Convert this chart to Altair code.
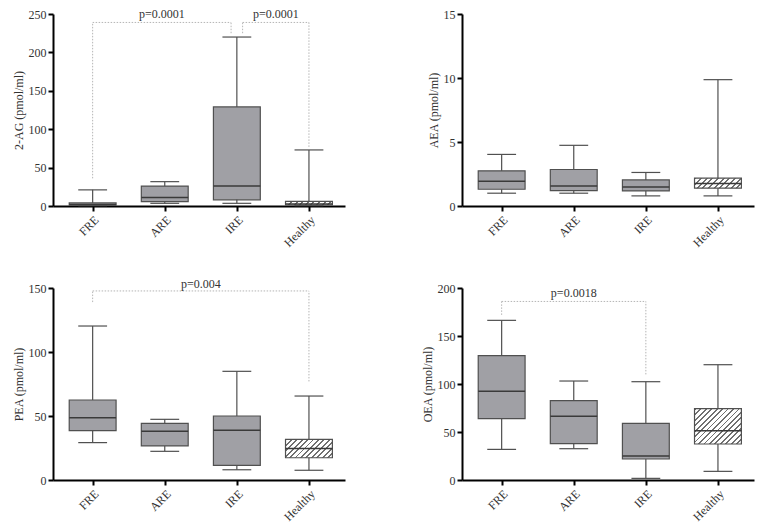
import json

import altair as alt
import numpy as np
import pandas as pd

groups = ["FRE", "ARE", "IRE", "Healthy"]
positions = [1, 2, 3, 4]

# 2-AG (pmol/ml)
ag_min = [0.5, 3.5, 3.5, 0.5]
ag_q1 = [1.0, 5.6, 8.0, 1.3]
ag_med = [2.0, 11.0, 26.0, 2.5]
ag_q3 = [4.0, 26.0, 129.0, 6.0]
ag_max = [21.0, 31.7, 220.0, 73.0]

# AEA (pmol/ml)
aea_min = [1.0, 1.0, 0.79, 0.79]
aea_q1 = [1.31, 1.2, 1.18, 1.39]
aea_med = [1.94, 1.57, 1.49, 1.75]
aea_q3 = [2.75, 2.85, 2.04, 2.17]
aea_max = [4.03, 4.74, 2.62, 9.87]

# PEA (pmol/ml)
pea_min = [29.2, 22.4, 8.0, 7.6]
pea_q1 = [38.5, 26.6, 11.5, 17.4]
pea_med = [48.7, 38.0, 38.8, 24.7]
pea_q3 = [62.5, 44.3, 50.0, 31.8]
pea_max = [120.3, 47.4, 84.9, 65.6]

# OEA (pmol/ml)
oea_min = [31.9, 32.6, 1.7, 9.0]
oea_q1 = [63.9, 37.8, 21.9, 37.5]
oea_med = [92.4, 66.3, 25.0, 51.4]
oea_q3 = [129.5, 82.6, 59.0, 74.3]
oea_max = [166.3, 103.1, 102.4, 120.1]

# significance brackets: x from, x to, left foot, right foot, top, label
ag_br_x1 = [1.0, 3.08]
ag_br_x2 = [2.92, 4.0]
ag_br_left = [36, 225]
ag_br_right = [225, 77]
ag_br_top = [239, 239]
ag_br_label = ["p=0.0001", "p=0.0001"]

pea_br_x1 = [1.0]
pea_br_x2 = [4.0]
pea_br_left = [139]
pea_br_right = [77]
pea_br_top = [147.7]
pea_br_label = ["p=0.004"]

oea_br_x1 = [1.0]
oea_br_x2 = [3.0]
oea_br_left = [172]
oea_br_right = [110]
oea_br_top = [186]
oea_br_label = ["p=0.0018"]

W, H = 292, 192
X_DOMAIN = [0.45, 4.5]
HALF_BOX = 0.325
HALF_CAP = 0.2
FONT = "Liberation Serif"
BOX_FILL = "#a0a0a5"
EDGE = "#505050"


def hatch_fill(w, h, period=4.0, frac=0.35):
    n = max(1, int(round((w + h) / (np.sqrt(2) * period))))
    k = (w + h) / (w * w + h * h)
    stops = []
    for i in range(n):
        a, b, c = i / n, (i + frac) / n, (i + 1) / n
        stops += [
            alt.GradientStop(offset=a, color="#707070"),
            alt.GradientStop(offset=b, color="#707070"),
            alt.GradientStop(offset=b, color="white"),
            alt.GradientStop(offset=c, color="white"),
        ]
    return alt.LinearGradient(gradient="linear", stops=stops,
                              x1=0, y1=0, x2=w * k, y2=h * k)


def make_panel(title, mins, q1s, meds, q3s, maxs, y_max, y_step,
               br_x1=(), br_x2=(), br_left=(), br_right=(), br_top=(),
               br_label=(), label_dy=-8):
    df = pd.DataFrame({
        "group": groups, "pos": positions, "min": mins, "q1": q1s,
        "med": meds, "q3": q3s, "max": maxs,
    })
    df["box_lo"] = df["pos"] - HALF_BOX
    df["box_hi"] = df["pos"] + HALF_BOX
    df["cap_lo"] = df["pos"] - HALF_CAP
    df["cap_hi"] = df["pos"] + HALF_CAP

    label_expr = json.dumps(groups) + "[datum.value - 1]"
    x_ax = alt.Axis(values=positions, labelExpr=label_expr, labelAngle=-45,
                    title=None, grid=False, labelFont=FONT, labelFontSize=12,
                    labelColor="#333", domainColor="black", domainWidth=2,
                    tickColor="black", tickWidth=2, tickSize=5, labelPadding=3,
                    labelOverlap=False, tickCount=10)
    y_vals = list(range(0, y_max + 1, y_step))
    y_ax = alt.Axis(values=y_vals, tickCount=len(y_vals) + 2, grid=False,
                    title=title, titleFont=FONT, titleFontSize=12,
                    titleFontWeight="normal", titleColor="#333",
                    labelFont=FONT, labelFontSize=12, labelColor="#333",
                    domainColor="black", domainWidth=2, tickColor="black",
                    tickWidth=2, tickSize=5, titlePadding=3,
                    labelOverlap=False, labelFlush=False)
    xs = alt.Scale(domain=X_DOMAIN, nice=False, zero=False)
    ys = alt.Scale(domain=[0, y_max], nice=False)

    base = alt.Chart(df)
    whisker = base.mark_rule(color=EDGE, strokeWidth=1.2).encode(
        x=alt.X("pos:Q", scale=xs, axis=x_ax), y=alt.Y("min:Q", scale=ys, axis=y_ax),
        y2="max:Q")
    cap_lo = base.mark_rule(color=EDGE, strokeWidth=1.2).encode(
        x="cap_lo:Q", x2="cap_hi:Q", y="min:Q")
    cap_hi = base.mark_rule(color=EDGE, strokeWidth=1.2).encode(
        x="cap_lo:Q", x2="cap_hi:Q", y="max:Q")
    box = base.transform_filter(alt.datum.group != "Healthy").mark_rect(
        fill=BOX_FILL, stroke=EDGE, strokeWidth=1.2).encode(
        x="box_lo:Q", x2="box_hi:Q", y="q1:Q", y2="q3:Q")

    healthy = df[df["group"] == "Healthy"].iloc[0]
    px_per_unit = W / (X_DOMAIN[1] - X_DOMAIN[0])
    hw = 2 * HALF_BOX * px_per_unit
    hh = max((healthy["q3"] - healthy["q1"]) / y_max * H, 1.0)
    hbox = base.transform_filter(alt.datum.group == "Healthy").mark_rect(
        fill=hatch_fill(hw, hh), stroke=EDGE, strokeWidth=1.2).encode(
        x="box_lo:Q", x2="box_hi:Q", y="q1:Q", y2="q3:Q")
    median = base.mark_rule(color="#3a3a3a", strokeWidth=1.5).encode(
        x="box_lo:Q", x2="box_hi:Q", y="med:Q")

    layers = [whisker, cap_lo, cap_hi, box, hbox, median]

    if len(br_label):
        segs = []
        for a, b, lf, rf, t in zip(br_x1, br_x2, br_left, br_right, br_top):
            segs.append({"x": a, "x2": a, "y": lf, "y2": t})
            segs.append({"x": a, "x2": b, "y": t, "y2": t})
            segs.append({"x": b, "x2": b, "y": rf, "y2": t})
        seg_df = pd.DataFrame(segs)
        lab_df = pd.DataFrame({
            "x": [(a + b) / 2 for a, b in zip(br_x1, br_x2)],
            "y": list(br_top), "label": list(br_label),
        })
        brackets = alt.Chart(seg_df).mark_rule(
            color="#b5b5b5", strokeWidth=1, strokeDash=[1.5, 1.5]).encode(
            x="x:Q", x2="x2:Q", y="y:Q", y2="y2:Q")
        labels = alt.Chart(lab_df).mark_text(
            font=FONT, fontSize=12, color="#333", dy=label_dy).encode(
            x="x:Q", y="y:Q", text="label:N")
        layers += [brackets, labels]

    return alt.layer(*layers).properties(width=W, height=H)


p_ag = make_panel("2-AG (pmol/ml)", ag_min, ag_q1, ag_med, ag_q3, ag_max, 250, 50,
                  ag_br_x1, ag_br_x2, ag_br_left, ag_br_right, ag_br_top, ag_br_label)
p_aea = make_panel("AEA (pmol/ml)", aea_min, aea_q1, aea_med, aea_q3, aea_max, 15, 5)
p_pea = make_panel("PEA (pmol/ml)", pea_min, pea_q1, pea_med, pea_q3, pea_max, 150, 50,
                   pea_br_x1, pea_br_x2, pea_br_left, pea_br_right, pea_br_top,
                   pea_br_label, label_dy=-7)
p_oea = make_panel("OEA (pmol/ml)", oea_min, oea_q1, oea_med, oea_q3, oea_max, 200, 50,
                   oea_br_x1, oea_br_x2, oea_br_left, oea_br_right, oea_br_top,
                   oea_br_label)

chart = alt.concat(
    p_ag, p_aea, p_pea, p_oea, columns=2, bounds="flush",
    spacing={"row": 82, "column": 117},
).properties(
    padding={"left": 4, "top": 0, "right": 5, "bottom": 5},
    background="white",
).configure_view(stroke=None).configure_axis(labelOverlap=False)

chart.save("out.html", embed_options={"renderer": "svg", "actions": False})
